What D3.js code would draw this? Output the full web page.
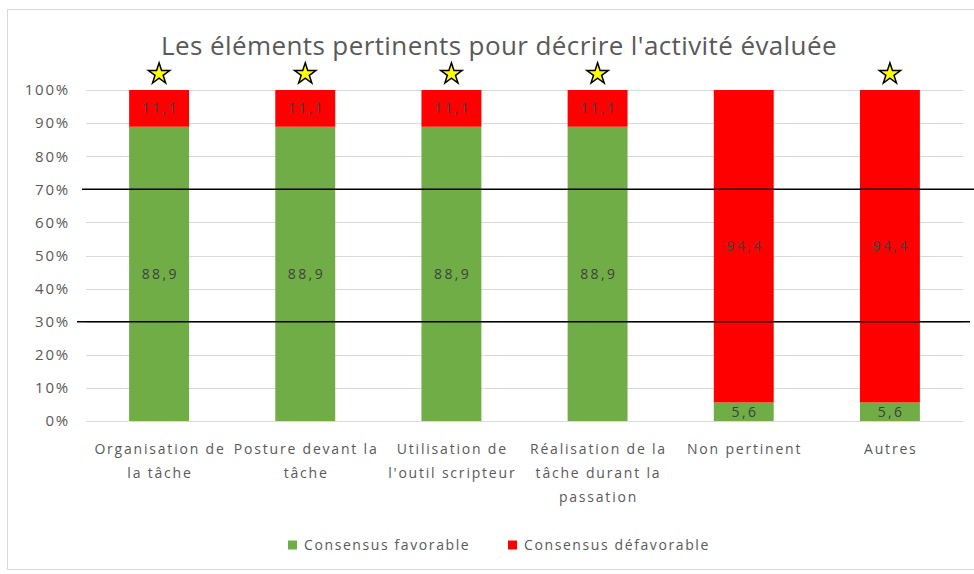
<!DOCTYPE html>
<html>
<head>
<meta charset="utf-8">
<script src="https://cdn.jsdelivr.net/npm/d3@7"></script>
<style>
  body { margin: 0; background: #fff; }
  text { font-family: "Open Sans", sans-serif; }
</style>
</head>
<body>
<div id="chart"></div>
<script>
var width = 974;
var height = 574;

// data
var categories = ["Organisation de la tâche", "Posture devant la tâche", "Utilisation de l'outil scripteur",
                  "Réalisation de la tâche durant la passation", "Non pertinent", "Autres"];
var catLines = [["Organisation de", "la tâche"], ["Posture devant la", "tâche"], ["Utilisation de", "l'outil scripteur"],
                ["Réalisation de la", "tâche durant la", "passation"], ["Non pertinent"], ["Autres"]];
var favorable = [88.9, 88.9, 88.9, 88.9, 5.6, 5.6];
var defavorable = [11.1, 11.1, 11.1, 11.1, 94.4, 94.4];
var starred = [true, true, true, true, false, true];
var refLines = [30, 70];
var yTicks = [0, 10, 20, 30, 40, 50, 60, 70, 80, 90, 100];
var seriesNames = ["Consensus favorable", "Consensus défavorable"];
var colors = ["#70ad47", "#ff0000"];

var margin = {top: 90, left: 86, right: 11, bottom: 153};

var svg = d3.select("#chart").append("svg")
  .attr("width", width)
  .attr("height", height);

// chart frame
svg.append("rect")
  .attr("x", 7.5).attr("y", 9.5)
  .attr("width", 1000).attr("height", 560)
  .attr("fill", "none").attr("stroke", "#d9d9d9");

var x = d3.scaleBand()
  .domain(categories)
  .range([margin.left, width - margin.right])
  .paddingInner(0.59).paddingOuter(0.295);

var y = d3.scaleLinear()
  .domain([0, 100])
  .range([height - margin.bottom, margin.top]);

// title
svg.append("text")
  .attr("x", 499).attr("y", 55)
  .attr("text-anchor", "middle")
  .attr("font-size", 26)
  .attr("letter-spacing", 0.4)
  .attr("fill", "#595959")
  .text("Les éléments pertinents pour décrire l'activité évaluée");

// gridlines
svg.append("g")
  .selectAll("line")
  .data(yTicks)
  .join("line")
  .attr("x1", margin.left).attr("x2", width - margin.right)
  .attr("y1", d => Math.round(y(d)) + 0.5).attr("y2", d => Math.round(y(d)) + 0.5)
  .attr("stroke", "#d9d9d9");

// y axis labels
var yAxis = d3.axisLeft(y).tickValues(yTicks).tickSize(0).tickPadding(0)
  .tickFormat(d => d + "%");
var gy = svg.append("g")
  .attr("transform", "translate(70,0)")
  .call(yAxis);
gy.select(".domain").remove();
gy.selectAll("text")
  .attr("font-size", 15)
  .attr("letter-spacing", 1.8)
  .attr("fill", "#595959")
  .attr("font-family", "Open Sans, sans-serif");

// stacked bars
var rows = categories.map((c, i) => ({cat: c, fav: favorable[i], def: defavorable[i]}));
var stack = d3.stack().keys(["fav", "def"]);
var stacked = stack(rows);

var layers = svg.append("g").selectAll("g")
  .data(stacked)
  .join("g")
  .attr("fill", (d, i) => colors[i]);

layers.selectAll("rect")
  .data(d => d)
  .join("rect")
  .attr("x", d => x(d.data.cat))
  .attr("width", x.bandwidth())
  .attr("y", d => y(d[1]))
  .attr("height", d => y(d[0]) - y(d[1]));

// data labels
layers.selectAll("text")
  .data(d => d)
  .join("text")
  .attr("x", d => x(d.data.cat) + x.bandwidth() / 2 + 1.2)
  .attr("y", d => y((d[0] + d[1]) / 2))
  .attr("dy", "0.35em")
  .attr("text-anchor", "middle")
  .attr("font-size", 14)
  .attr("letter-spacing", 2.4)
  .attr("fill", "#404040")
  .text(d => String(+(d[1] - d[0]).toFixed(1)).replace(".", ","));

// reference lines at 30% and 70%
svg.append("g")
  .selectAll("line")
  .data(refLines)
  .join("line")
  .attr("x1", d => d == 70 ? 82 : 77)
  .attr("x2", d => d == 70 ? width : 970)
  .attr("y1", d => y(d)).attr("y2", d => y(d))
  .attr("stroke", "#000")
  .attr("stroke-width", 1.5);

// stars above the bars
var star = d3.symbol().type(d3.symbolStar).size(140);
svg.append("g")
  .selectAll("path")
  .data(categories.filter((c, i) => starred[i]))
  .join("path")
  .attr("d", star)
  .attr("transform", d => "translate(" + (x(d) + x.bandwidth() / 2) + "," + 74 + ")")
  .attr("fill", "#ffff00")
  .attr("stroke", "#000")
  .attr("stroke-width", 1.5);

// category labels
var cats = svg.append("g").selectAll("text")
  .data(categories)
  .join("text")
  .attr("x", d => x(d) + x.bandwidth() / 2 + 0.9)
  .attr("y", 454)
  .attr("text-anchor", "middle")
  .attr("font-size", 14)
  .attr("letter-spacing", 1.8)
  .attr("fill", "#595959");
cats.selectAll("tspan")
  .data((d, i) => catLines[i])
  .join("tspan")
  .attr("x", function() { return this.parentNode.getAttribute("x"); })
  .attr("dy", (d, i) => i == 0 ? 0 : 24)
  .text(d => d);

// legend
var legendX = [288, 508];
var legend = svg.append("g").selectAll("g")
  .data(seriesNames)
  .join("g")
  .attr("transform", (d, i) => "translate(" + legendX[i] + ",545)");
legend.append("rect")
  .attr("x", 0).attr("y", -4.5).attr("width", 9).attr("height", 9)
  .attr("fill", (d, i) => colors[i]);
legend.append("text")
  .attr("x", 16).attr("dy", "0.35em")
  .attr("font-size", 14)
  .attr("letter-spacing", 1.6)
  .attr("fill", "#595959")
  .text(d => d);
</script>
</body>
</html>
